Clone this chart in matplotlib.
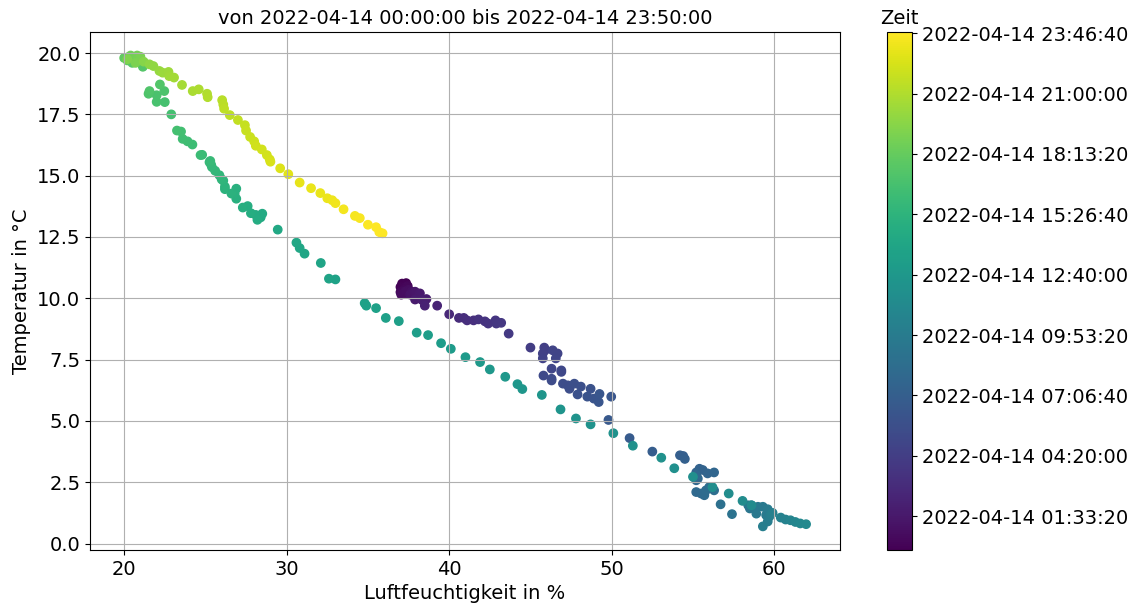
import matplotlib
matplotlib.use("Agg")
import matplotlib.pyplot as plt
import matplotlib.ticker as mticker
import pandas as pd

# Messwerte 2022-04-14 (Uhrzeit, Luftfeuchtigkeit %, Temperatur °C)
zeit = [
    "00:00", "00:05", "00:10", "00:15", "00:20", "00:25", "00:30", "00:35", "00:40", "00:45",
    "00:50", "00:55", "01:05", "01:15", "01:25", "01:35", "01:45", "01:50", "01:55", "02:00",
    "02:10", "02:25", "02:40", "02:55", "03:05", "03:10", "03:15", "03:25", "03:30", "03:35",
    "03:40", "03:45", "03:50", "04:00", "04:15", "04:25", "04:30", "04:35", "04:40", "04:45",
    "04:50", "04:55", "05:00", "05:05", "05:10", "05:15", "05:20", "05:25", "05:30", "05:35",
    "05:40", "05:45", "05:50", "05:55", "06:00", "06:05", "06:10", "06:15", "06:20", "06:25",
    "06:35", "06:45", "06:55", "07:05", "07:10", "07:15", "07:25", "07:30", "07:35", "07:40",
    "07:45", "07:50", "07:55", "08:00", "08:05", "08:10", "08:15", "08:20", "08:25", "08:30",
    "08:45", "09:00", "09:15", "09:20", "09:25", "09:30", "09:35", "09:40", "09:45", "09:50",
    "09:55", "10:00", "10:05", "10:10", "10:15", "10:25", "10:35", "10:45", "10:55", "11:05",
    "11:15", "11:25", "11:30", "11:35", "11:40", "11:45", "11:50", "11:55", "12:00", "12:05",
    "12:10", "12:15", "12:20", "12:25", "12:30", "12:35", "12:40", "12:45", "12:50", "12:55",
    "13:00", "13:05", "13:10", "13:15", "13:20", "13:25", "13:30", "13:35", "13:40", "13:45",
    "13:50", "13:55", "14:00", "14:05", "14:10", "14:15", "14:25", "14:30", "14:35", "14:40",
    "14:45", "14:50", "14:55", "15:00", "15:05", "15:10", "15:15", "15:20", "15:25", "15:30",
    "15:35", "15:40", "15:45", "15:50", "15:55", "16:00", "16:05", "16:10", "16:15", "16:20",
    "16:25", "16:30", "16:35", "16:40", "16:45", "16:50", "16:55", "17:00", "17:05", "17:10",
    "17:15", "17:20", "17:30", "17:40", "17:50", "18:00", "18:10", "18:20", "18:30", "18:40",
    "18:50", "19:00", "19:10", "19:20", "19:30", "19:45", "19:55", "20:05", "20:15", "20:20",
    "20:25", "20:30", "20:40", "20:50", "20:55", "21:00", "21:05", "21:15", "21:20", "21:25",
    "21:30", "21:40", "21:45", "21:50", "21:55", "22:00", "22:05", "22:10", "22:15", "22:20",
    "22:25", "22:35", "22:45", "22:55", "23:00", "23:05", "23:10", "23:15", "23:20", "23:25",
    "23:30", "23:35", "23:40", "23:45", "23:48", "23:50",
]

feuchte = [
    37.1, 37.35, 37.2, 37.0, 37.3, 37.45, 37.2, 37.0, 37.4, 37.5,
    37.05, 37.3, 37.7, 37.6, 37.9, 38.2, 37.9, 38.3, 38.6, 38.4,
    38.5, 39.26, 40.0, 40.6, 40.9, 41.1, 41.5, 41.8, 42.2, 42.4,
    42.85, 42.9, 43.2, 43.66, 45.0, 45.85, 45.9, 45.76, 45.76, 46.37,
    46.67, 46.56, 46.3, 46.9, 46.9, 45.8, 46.3, 46.3, 47.0, 47.3,
    47.4, 47.7, 48.1, 47.9, 48.7, 48.5, 48.9, 49.2, 49.25, 49.97,
    49.8, 51.1, 52.5, 54.2, 54.4, 54.5, 55.4, 55.6, 55.2, 55.9,
    56.3, 55.2, 55.3, 55.2, 55.2, 55.5, 55.7, 55.8, 56.0, 56.3,
    56.7, 57.4, 58.5, 58.4, 58.6, 58.9, 59.0, 59.3, 59.5, 59.6,
    59.7, 59.6, 59.3, 59.8, 59.9, 60.4, 60.7, 61.0, 61.3, 61.6,
    61.96, 58.6, 58.05, 57.2, 56.2, 55.0, 53.85, 53.05, 51.3, 50.1,
    48.7, 47.8, 46.85, 45.7, 44.5, 44.2, 43.45, 42.5, 41.9, 41.0,
    40.1, 39.5, 38.7, 38.0, 36.9, 36.1, 35.5, 34.9, 34.8, 33.0,
    32.6, 32.1, 31.1, 30.8, 30.6, 29.45, 28.4, 28.5, 28.1, 28.2,
    27.8, 27.6, 27.3, 26.9, 26.8, 26.9, 26.6, 26.2, 26.2, 26.1,
    26.0, 25.86, 25.6, 25.4, 25.35, 25.25, 25.3, 24.8, 24.7, 24.2,
    23.9, 23.6, 23.5, 23.25, 22.9, 22.5, 22.0, 22.0, 22.47, 21.5,
    21.56, 22.2, 21.15, 20.5, 20.2, 20.0, 20.3, 20.6, 20.9, 20.4,
    20.8, 21.0, 20.7, 20.2, 21.2, 21.56, 21.8, 22.17, 22.37, 22.73,
    22.77, 23.07, 23.56, 24.22, 24.59, 25.1, 25.14, 26.03, 26.1, 26.15,
    26.5, 27.0, 27.43, 27.5, 27.75, 28.0, 28.1, 28.47, 28.78, 28.96,
    29.0, 29.6, 30.1, 30.8, 31.5, 32.07, 32.5, 32.8, 33.0, 33.5,
    34.2, 34.5, 35.0, 35.5, 35.7, 35.9,
]

temperatur = [
    10.6, 10.62, 10.55, 10.46, 10.45, 10.5, 10.33, 10.25, 10.2, 10.35,
    10.15, 10.28, 10.27, 10.15, 10.27, 10.2, 9.95, 9.95, 9.97, 9.9,
    9.7, 9.7, 9.35, 9.2, 9.2, 9.1, 9.1, 9.14, 9.06, 8.97,
    9.1, 8.97, 9.0, 8.56, 7.99, 7.99, 7.88, 7.75, 7.55, 7.88,
    7.75, 7.55, 7.13, 7.06, 7.0, 6.85, 6.72, 6.65, 6.52, 6.45,
    6.31, 6.52, 6.4, 6.08, 6.31, 5.99, 5.91, 5.77, 6.1, 5.99,
    5.04, 4.3, 3.75, 3.6, 3.57, 3.45, 3.05, 3.0, 2.9, 2.86,
    2.9, 2.79, 2.65, 2.58, 2.1, 2.04, 1.97, 2.17, 2.3, 2.17,
    1.6, 1.2, 1.43, 1.56, 1.56, 1.22, 1.5, 1.5, 1.16, 1.4,
    1.1, 0.9, 0.7, 1.2, 1.25, 1.06, 0.98, 0.95, 0.88, 0.82,
    0.79, 1.56, 1.74, 2.04, 2.3, 2.72, 3.07, 3.5, 3.99, 4.5,
    4.86, 5.1, 5.47, 6.06, 6.3, 6.5, 6.8, 7.1, 7.4, 7.6,
    7.94, 8.17, 8.5, 8.6, 9.07, 9.2, 9.6, 9.7, 9.8, 10.77,
    10.8, 11.44, 11.82, 12.05, 12.27, 12.8, 13.3, 13.45, 13.4, 13.2,
    13.47, 13.76, 13.7, 14.06, 14.27, 14.47, 14.27, 14.45, 14.55, 14.8,
    14.85, 15.02, 15.2, 15.35, 15.45, 15.55, 15.6, 15.85, 15.84, 16.27,
    16.4, 16.5, 16.8, 16.84, 17.5, 18.0, 18.01, 18.28, 18.45, 18.34,
    18.45, 18.72, 19.44, 19.6, 19.7, 19.8, 19.85, 19.75, 19.7, 19.9,
    19.9, 19.85, 19.6, 19.75, 19.65, 19.54, 19.47, 19.27, 19.2, 19.23,
    19.06, 19.0, 18.7, 18.45, 18.52, 18.34, 18.2, 18.08, 17.9, 17.73,
    17.47, 17.27, 17.06, 16.84, 16.58, 16.4, 16.22, 16.07, 15.84, 15.66,
    15.57, 15.3, 15.06, 14.72, 14.49, 14.29, 14.08, 14.0, 13.88, 13.63,
    13.36, 13.27, 13.0, 12.9, 12.7, 12.65,
]

datum = "2022-04-14"
ts = pd.to_datetime([datum + " " + z for z in zeit])
sek = ts.astype("int64") // 10**9
start = datum + " 00:00:00"
ende = datum + " 23:50:00"

plt.rcParams["font.size"] = 14
fig = plt.figure(figsize=(11.4, 6.03), dpi=100)
ax = fig.add_axes([0.079, 0.088, 0.658, 0.859])
cax = fig.add_axes([0.778, 0.088, 0.022, 0.859])

sc = ax.scatter(feuchte, temperatur, c=sek, cmap="viridis",
                vmin=pd.Timestamp(start).value // 10**9,
                vmax=pd.Timestamp(ende).value // 10**9)
ax.grid(True)
ax.set_xlabel("Luftfeuchtigkeit in %")
ax.set_ylabel("Temperatur in °C")
ax.set_title("von " + start + " bis " + ende, fontsize=14)

cb = fig.colorbar(sc, cax=cax)
cb.locator = mticker.MultipleLocator(10000)
cb.formatter = mticker.FuncFormatter(
    lambda v, p: pd.to_datetime(v, unit="s").strftime("%Y-%m-%d %H:%M:%S"))
cb.update_ticks()
cax.set_title("Zeit", fontsize=14)

fig.savefig("out.png", dpi=100)
